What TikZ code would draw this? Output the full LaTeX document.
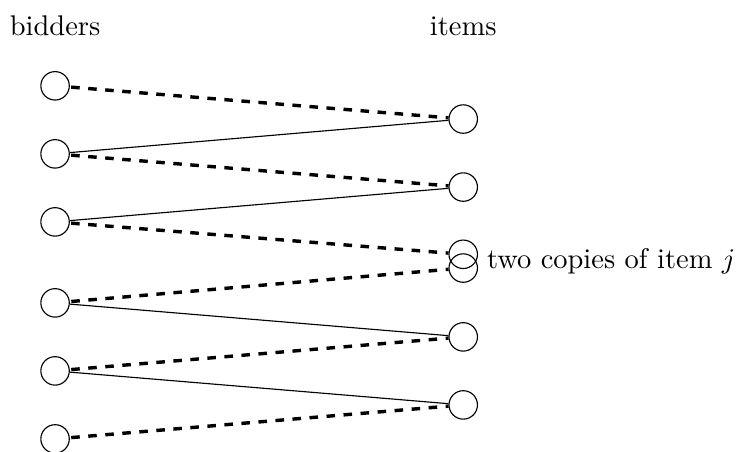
\documentclass[tikz,border=0pt]{standalone}
\usetikzlibrary{positioning}
\tikzset{
	agent/.style={draw,circle,minimum size=10pt,inner sep=0pt},
	demand/.style={very thick,dash pattern=on 3pt off 3pt,dash phase=2pt},
}
\begin{document}
\begin{tikzpicture}
			\useasboundingbox (0,0) rectangle (9.15,-5.58);
			\def\bx{0.68}
			\def\ix{5.72}
			%headers
			\node[anchor=base] (bidlabel) at (\bx,-.44) {bidders};
			\node[anchor=base] (itemlabel) at (\ix,-.44) {items};
			%bidders
			\foreach \n/\y in {1/1.06,2/1.90,3/2.74,4/3.74,5/4.58,6/5.42}
				\node[agent] (b\n) at (\bx,-\y) {};
			%items, item j comes twice
			\foreach \n/\y in {1/1.47,2/2.31,3/3.14,4/3.31,5/4.16,6/5.0}
				\node[agent] (i\n) at (\ix,-\y) {};
			\node[anchor=west] (copies) at (\ix+.17,-3.22) {two copies of item $j$};
			% dashed edges
			\foreach \i/\b in {1/1,2/2,3/3,4/4,5/5,6/6}
				\draw[demand] (i\i) -- (b\b);
			% solid edges
			\foreach \b/\i in {2/1,3/2,4/5,5/6}
				\draw (b\b) -- (i\i);
		\end{tikzpicture}
\end{document}
